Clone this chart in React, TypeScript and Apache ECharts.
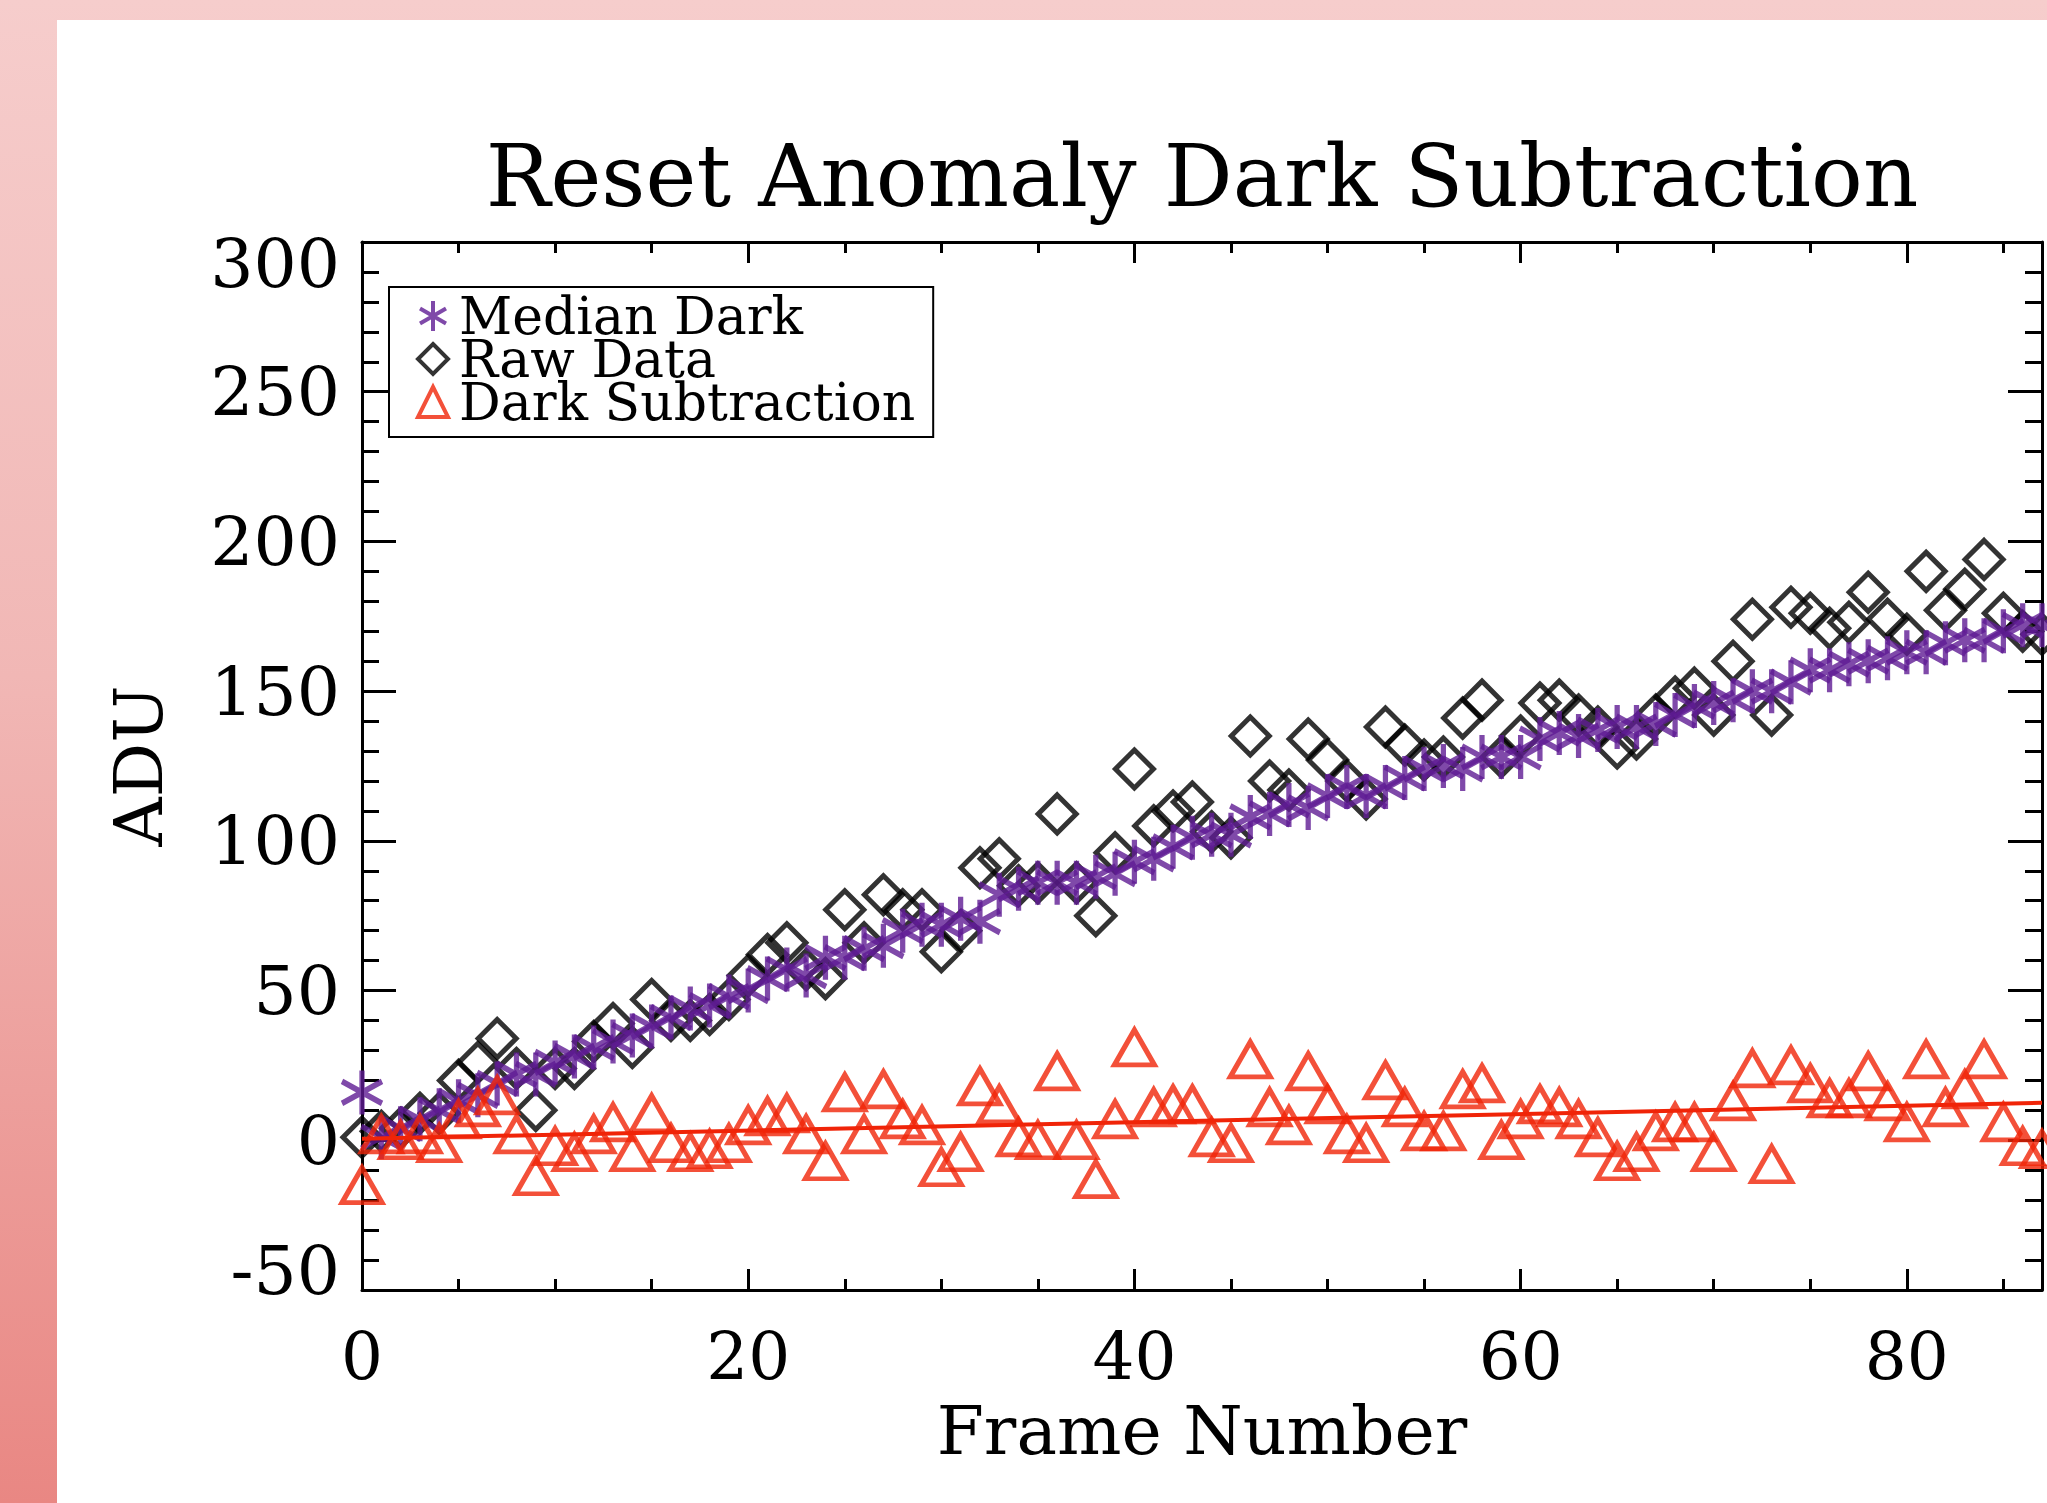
import React, { useEffect, useRef } from 'react';
import * as echarts from 'echarts';

// ---- data ----
const frameMin = 0;
const frameMax = 87;
const yMin = -50;
const yMax = 300;

const medianDark = [
  16, 1, 4, 7, 10, 13, 15, 19, 22, 22,
  26, 28, 31, 33, 35, 38, 41, 44, 45, 48,
  50, 54, 57, 55, 61, 61, 64, 65, 70, 72,
  72, 74, 73, 82, 84, 86, 86, 86, 88, 89,
  93, 94, 98, 101, 102, 102, 108, 109, 112, 111,
  115, 118, 115, 118, 121, 124, 125, 124, 128, 128,
  128, 134, 136, 135, 137, 138, 138, 139, 142, 145,
  146, 147, 150, 150, 153, 157, 157, 159, 160, 161,
  163, 163, 166, 167, 167, 170, 172, 172,
];

const rawData = [
  1, 3, 4, 9, 9, 20, 26, 34, 24, 10,
  24, 24, 33, 39, 31, 47, 40, 40, 42, 47,
  55, 62, 66, 57, 54, 77, 66, 82, 77, 77,
  63, 70, 91, 94, 85, 86, 109, 86, 75, 96,
  124, 105, 110, 113, 103, 101, 135, 120, 117, 134,
  127, 120, 114, 138, 132, 127, 128, 141, 147, 128,
  135, 146, 147, 142, 138, 131, 134, 142, 148, 151,
  142, 160, 174, 142, 178, 176, 171, 173, 183, 174,
  169, 190, 177, 184, 194, 176, 170, 169,
];

const darkSubtraction = [
  -15, 2, 0, 2, -1, 7, 11, 15, 2, -12,
  -2, -4, 2, 6, -4, 9, -1, -4, -3, -1,
  5, 8, 9, 2, -7, 16, 2, 17, 7, 5,
  -9, -4, 18, 12, 1, 0, 23, 0, -13, 7,
  31, 11, 12, 12, 1, -1, 27, 11, 5, 23,
  12, 2, -1, 20, 11, 3, 3, 17, 19, 0,
  7, 12, 11, 7, 1, -7, -4, 3, 6, 6,
  -4, 13, 24, -8, 25, 19, 14, 14, 23, 13,
  6, 27, 11, 17, 27, 6, -2, -3,
];

const fitLine = [
  [0, 0.5],
  [87, 12.5],
];

const seriesNames = ['Median Dark', 'Raw Data', 'Dark Subtraction'];
const titleText = 'Reset Anomaly Dark Subtraction';
const xName = 'Frame Number';
const yName = 'ADU';

// ---- styles ----
const FONT = '"DejaVu Serif", "Liberation Serif", serif';
const PURPLE = '#5f1c94';
const RED = '#f02408';
const ASTERISK = 'path://M0,-10L0,10M-8.66,-5L8.66,5M-8.66,5L8.66,-5';

export default function App() {
  const ref = useRef<HTMLDivElement>(null);

  useEffect(() => {
    if (!ref.current) return;
    const chart = echarts.init(ref.current, null, { renderer: 'svg' });
    const pts = (arr: number[]) => arr.map((v, i) => [i, v]);

    const tickStyle = { color: '#000', width: 3 };
    const lineOn = { show: true, onZero: false, lineStyle: { color: '#000', width: 3 } };
    const lineOff = { show: false, onZero: false };
    const baseX: any = {
      type: 'value',
      min: frameMin,
      max: frameMax,
      splitLine: { show: false },
      axisLabel: { show: false },
    };
    const yLabelFont = { fontSize: 68, fontFamily: FONT, color: '#000' };

    chart.setOption({
      animation: false,
      backgroundColor: 'transparent',
      grid: { left: 362, right: 5, top: 242, bottom: 213, containLabel: false },
      graphic: [
        {
          type: 'text',
          x: 1202,
          y: 176,
          style: {
            text: titleText,
            fontSize: 86,
            fontFamily: FONT,
            fill: '#000',
            align: 'center',
            verticalAlign: 'middle',
          },
        },
      ],
      xAxis: [
        {
          ...baseX,
          position: 'bottom',
          interval: 5,
          axisLine: lineOn,
          axisTick: { show: true, inside: true, length: 11, lineStyle: tickStyle },
          axisLabel: {
            show: true,
            formatter: (v: number) => (v % 20 === 0 ? String(v) : ''),
            fontSize: 66,
            fontFamily: FONT,
            color: '#000',
            margin: 33,
          },
          name: xName,
          nameLocation: 'middle',
          nameGap: 106,
          nameTextStyle: { fontSize: 68, fontFamily: FONT, color: '#000' },
        },
        {
          ...baseX,
          position: 'top',
          interval: 5,
          axisLine: lineOn,
          axisTick: { show: true, inside: true, length: 11, lineStyle: tickStyle },
        },
        {
          ...baseX,
          position: 'top',
          interval: 20,
          axisLine: lineOff,
          axisTick: { show: true, inside: true, length: 21, lineStyle: tickStyle },
        },
        {
          ...baseX,
          position: 'bottom',
          interval: 20,
          axisLine: lineOff,
          axisTick: { show: true, inside: true, length: 21, lineStyle: tickStyle },
        },
      ],
      yAxis: [
        {
          type: 'value',
          position: 'left',
          min: yMin,
          max: yMax,
          interval: 50,
          splitLine: { show: false },
          axisLine: lineOn,
          axisTick: { show: true, inside: true, length: 34, lineStyle: tickStyle },
          minorTick: { show: true, splitNumber: 5, length: 17, lineStyle: tickStyle },
          axisLabel: {
            ...yLabelFont,
            margin: 22,
            formatter: (v: number) =>
              v === yMax ? `{hi|${v}}` : v === yMin ? `{lo|${v}}` : String(v),
            rich: {
              hi: { ...yLabelFont, padding: [42, 0, 0, 0] },
              lo: { ...yLabelFont, padding: [0, 0, 40, 0] },
            },
          },
          name: yName,
          nameLocation: 'middle',
          nameGap: 190,
          nameTextStyle: { fontSize: 68, fontFamily: FONT, color: '#000' },
        },
        {
          type: 'value',
          position: 'right',
          min: yMin,
          max: yMax,
          interval: 50,
          splitLine: { show: false },
          axisLine: lineOn,
          axisTick: { show: true, inside: true, length: 34, lineStyle: tickStyle },
          minorTick: { show: true, splitNumber: 5, length: 17, lineStyle: tickStyle },
          axisLabel: { show: false },
        },
      ],
      legend: {
        data: seriesNames,
        orient: 'vertical',
        left: 389,
        top: 287,
        padding: [3, 18, 9, 27],
        itemGap: -9,
        itemWidth: 30,
        itemHeight: 30,
        backgroundColor: '#fff',
        borderColor: '#000',
        borderWidth: 2,
        selectedMode: false,
        itemStyle: { borderWidth: 4 },
        textStyle: {
          fontSize: 52,
          fontFamily: FONT,
          color: '#000',
          padding: [0, 0, 0, 6],
        },
      },
      series: [
        {
          name: seriesNames[1],
          type: 'scatter',
          symbol: 'diamond',
          symbolSize: [38, 38],
          itemStyle: { color: 'transparent', borderColor: '#000', borderWidth: 5 },
          data: pts(rawData),
        },
        {
          name: seriesNames[0],
          type: 'scatter',
          symbol: ASTERISK,
          symbolSize: [40, 44],
          itemStyle: { color: 'transparent', borderColor: PURPLE, borderWidth: 5.5 },
          data: pts(medianDark),
        },
        {
          name: seriesNames[2],
          type: 'scatter',
          symbol: 'triangle',
          symbolSize: [40, 35],
          itemStyle: { color: 'transparent', borderColor: RED, borderWidth: 5 },
          data: pts(darkSubtraction),
        },
        {
          name: 'Fit',
          type: 'line',
          data: fitLine,
          showSymbol: false,
          silent: true,
          lineStyle: { color: RED, width: 4 },
        },
      ],
    });

    return () => chart.dispose();
  }, []);

  return (
    <div
      style={{
        position: 'fixed',
        left: 0,
        top: 0,
        width: 2047,
        height: 1503,
        background: 'linear-gradient(to bottom, #f6cdcc 0%, #f1b7b5 45%, #e98783 100%)',
        overflow: 'hidden',
      }}
    >
      <div
        style={{
          position: 'absolute',
          left: 57,
          top: 20,
          width: 2047 - 57,
          height: 1503 - 20,
          background: '#ffffff',
        }}
      />
      <div ref={ref} style={{ position: 'absolute', left: 0, top: 0, width: 2047, height: 1503 }} />
    </div>
  );
}
